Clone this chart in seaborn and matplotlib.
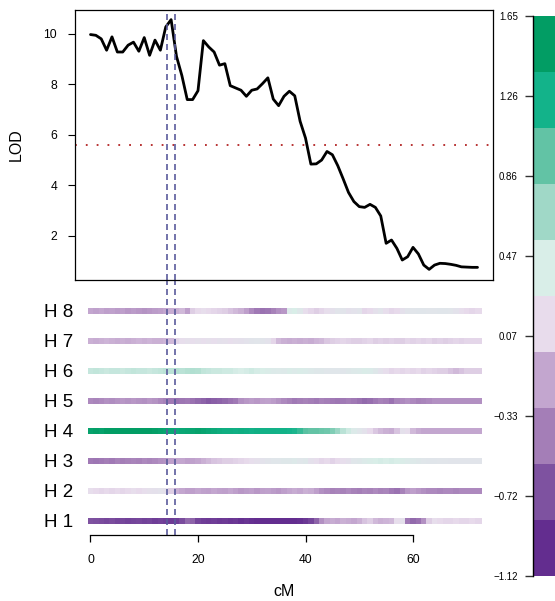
import numpy as np
import pandas as pd
import matplotlib
matplotlib.use('Agg')
import matplotlib.pyplot as plt
from matplotlib.colors import ListedColormap, LinearSegmentedColormap, Normalize
import seaborn as sns

# marker positions (cM) and LOD profile
cm_pos = list(range(73))
lod = [9.96, 9.93, 9.79, 9.34, 9.87, 9.27, 9.27, 9.54, 9.66, 9.30,
       9.84, 9.14, 9.74, 9.34, 10.26, 10.55, 9.10, 8.34, 7.39, 7.39,
       7.74, 9.72, 9.47, 9.27, 8.75, 8.81, 7.94, 7.85, 7.76, 7.52,
       7.76, 7.81, 8.02, 8.25, 7.41, 7.15, 7.52, 7.72, 7.54, 6.53,
       5.87, 4.84, 4.85, 5.00, 5.34, 5.21, 4.78, 4.26, 3.72, 3.36,
       3.16, 3.13, 3.25, 3.13, 2.79, 1.71, 1.84, 1.51, 1.05, 1.18,
       1.55, 1.29, 0.85, 0.68, 0.85, 0.92, 0.91, 0.88, 0.84, 0.78,
       0.77, 0.76, 0.76]

lod_threshold = 5.6
ci_bounds = [14.3, 15.7]

# haplotype effects along the chromosome
hap_labels = ['H 1', 'H 2', 'H 3', 'H 4', 'H 5', 'H 6', 'H 7', 'H 8']
h1 = [-0.70, -0.72, -0.75, -0.78, -0.75, -0.80, -0.78, -0.82, -0.80, -0.78,
      -0.82, -0.80, -0.85, -0.82, -0.85, -0.88, -0.85, -0.75, -0.55, -0.60,
      -0.80, -0.85, -0.88, -0.85, -0.90, -0.88, -0.92, -0.90, -0.95, -0.92,
      -0.95, -0.98, -1.00, -1.02, -1.00, -1.05, -1.02, -1.00, -0.98, -0.95,
      -0.90, -0.80, -0.60, -0.30, -0.15, -0.12, -0.15, -0.10, -0.12, -0.15,
      -0.10, 0.00, 0.05, -0.05, -0.10, -0.08, -0.05, 0.15, 0.20, -0.45,
      -0.55, -0.50, -0.30, 0.05, 0.15, 0.12, 0.10, 0.10, 0.12, 0.10,
      0.10, 0.12, 0.10]
h2 = [0.15, 0.12, 0.10, 0.12, 0.10, 0.12, 0.10, 0.12, 0.15, 0.12,
      0.15, 0.18, 0.20, 0.22, 0.20, 0.05, -0.10, -0.15, -0.20, -0.20,
      -0.15, -0.18, -0.20, -0.15, -0.18, -0.20, -0.15, -0.20, -0.25, -0.22,
      -0.20, -0.25, -0.20, -0.18, -0.22, -0.25, -0.20, -0.15, -0.12, -0.15,
      -0.10, -0.12, -0.20, -0.30, -0.35, -0.40, -0.38, -0.40, -0.35, -0.40,
      -0.42, -0.38, -0.40, -0.35, -0.40, -0.38, -0.45, -0.50, -0.40, -0.25,
      -0.20, -0.25, -0.30, -0.35, -0.35, -0.38, -0.35, -0.35, -0.38, -0.35,
      -0.35, -0.35, -0.35]
h3 = [-0.45, -0.48, -0.45, -0.42, -0.45, -0.40, -0.42, -0.40, -0.38, -0.40,
      -0.35, -0.38, -0.35, -0.30, -0.28, -0.20, -0.15, -0.15, -0.20, -0.18,
      -0.15, -0.10, -0.05, 0.00, 0.02, 0.05, 0.05, 0.08, 0.10, 0.12,
      0.15, 0.18, 0.22, 0.25, 0.28, 0.28, 0.30, 0.30, 0.32, 0.28,
      0.30, 0.20, 0.15, 0.10, 0.12, 0.08, 0.12, 0.15, 0.20, 0.28,
      0.30, 0.35, 0.38, 0.40, 0.42, 0.40, 0.42, 0.40, 0.38, 0.35,
      0.32, 0.30, 0.28, 0.27, 0.27, 0.26, 0.26, 0.25, 0.25, 0.25,
      0.25, 0.25, 0.25]
h4 = [1.45, 1.48, 1.45, 1.50, 1.52, 1.50, 1.52, 1.55, 1.58, 1.55,
      1.55, 1.50, 1.48, 1.45, 1.42, 1.38, 1.35, 1.38, 1.40, 1.42,
      1.45, 1.42, 1.38, 1.35, 1.32, 1.30, 1.30, 1.28, 1.30, 1.28,
      1.26, 1.28, 1.26, 1.25, 1.25, 1.24, 1.24, 1.22, 1.20, 1.10,
      0.98, 0.95, 0.95, 0.92, 0.90, 0.82, 0.70, 0.55, 0.45, 0.35,
      0.28, 0.22, 0.12, 0.02, -0.05, -0.10, -0.12, 0.00, 0.20, 0.15,
      -0.05, -0.12, -0.15, -0.15, -0.15, -0.15, -0.15, -0.15, -0.15, -0.15,
      -0.15, -0.15, -0.15]
h5 = [-0.35, -0.38, -0.35, -0.30, -0.32, -0.28, -0.25, -0.28, -0.25, -0.28,
      -0.30, -0.25, -0.28, -0.35, -0.40, -0.45, -0.50, -0.48, -0.45, -0.50,
      -0.55, -0.60, -0.65, -0.62, -0.60, -0.55, -0.50, -0.45, -0.30, -0.25,
      -0.22, -0.25, -0.20, -0.18, -0.22, -0.28, -0.35, -0.40, -0.45, -0.42,
      -0.40, -0.42, -0.45, -0.40, -0.42, -0.45, -0.48, -0.45, -0.42, -0.45,
      -0.50, -0.55, -0.52, -0.45, -0.40, -0.42, -0.50, -0.38, -0.35, -0.30,
      -0.35, -0.40, -0.38, -0.35, -0.30, -0.30, -0.30, -0.30, -0.30, -0.30,
      -0.30, -0.30, -0.30]
h6 = [0.50, 0.52, 0.50, 0.48, 0.50, 0.50, 0.48, 0.50, 0.52, 0.50,
      0.50, 0.48, 0.50, 0.52, 0.55, 0.55, 0.58, 0.55, 0.58, 0.60,
      0.58, 0.52, 0.50, 0.48, 0.48, 0.45, 0.45, 0.42, 0.40, 0.42,
      0.45, 0.42, 0.40, 0.38, 0.35, 0.33, 0.32, 0.38, 0.35, 0.38,
      0.36, 0.32, 0.30, 0.30, 0.28, 0.28, 0.28, 0.27, 0.30, 0.32,
      0.35, 0.38, 0.36, 0.30, 0.22, 0.15, 0.10, 0.12, 0.10, 0.12,
      0.10, 0.12, 0.08, 0.10, 0.08, 0.05, 0.05, 0.00, -0.05, 0.00,
      0.05, 0.05, 0.05]
h7 = [-0.10, -0.12, -0.10, -0.08, -0.10, -0.12, -0.10, -0.12, -0.10, -0.08,
      -0.10, -0.08, -0.10, -0.10, -0.08, -0.05, 0.10, 0.15, 0.18, 0.15,
      0.18, 0.15, 0.18, 0.15, 0.20, 0.18, 0.15, 0.18, 0.20, 0.22,
      0.25, 0.26, 0.25, 0.22, 0.10, -0.05, -0.10, -0.12, -0.10, -0.12,
      -0.10, -0.12, -0.08, -0.05, 0.02, 0.05, 0.08, 0.10, 0.08, 0.05,
      0.05, 0.08, 0.10, 0.05, 0.08, 0.05, 0.08, 0.05, 0.05, 0.10,
      0.08, 0.10, 0.08, 0.10, 0.05, 0.08, 0.05, 0.08, 0.10, 0.08,
      0.10, 0.10, 0.10]
h8 = [-0.15, -0.18, -0.15, -0.20, -0.18, -0.22, -0.20, -0.25, -0.22, -0.25,
      -0.28, -0.25, -0.22, -0.20, -0.15, -0.12, -0.10, -0.05, -0.20, 0.05,
      0.12, 0.15, 0.12, 0.10, 0.08, 0.05, 0.00, -0.05, -0.10, -0.20,
      -0.35, -0.45, -0.50, -0.48, -0.40, -0.30, -0.25, 0.35, 0.40, 0.30,
      0.15, 0.10, 0.05, 0.10, 0.15, 0.20, 0.25, 0.25, 0.20, 0.22,
      0.25, 0.10, 0.12, 0.20, 0.25, 0.15, 0.10, 0.12, 0.20, 0.25,
      0.26, 0.27, 0.27, 0.26, 0.26, 0.27, 0.27, 0.26, 0.22, 0.15,
      0.12, 0.10, 0.12]
hap_effects = [h1, h2, h3, h4, h5, h6, h7, h8]

# colour key
key_colors = ['#632d8f', '#7e52a0', '#a47eb7', '#c3a6cf', '#e8dcec',
              '#d9eee8', '#a0d8c7', '#62c3a5', '#13b38a', '#029d64']
key_min, key_max = -1.12, 1.65
key_ticklabels = ['1.65', '1.26', '0.86', '0.47', '0.07', '\u22120.33', '\u22120.72', '\u22121.12']

sns.set_style('white')
plt.rcParams['font.family'] = ['Liberation Sans', 'DejaVu Sans']
for k in ['text.color', 'axes.labelcolor', 'xtick.color', 'ytick.color', 'axes.edgecolor']:
    plt.rcParams[k] = 'black'

W, H = 555, 601
fig = plt.figure(figsize=(W / 100, H / 100), dpi=100)
ax_bot = fig.add_axes([75 / W, 1 - 535 / H, 418 / W, 255.5 / H])
ax_top = fig.add_axes([75 / W, 1 - 279.5 / H, 418 / W, 270 / H])
cax = fig.add_axes([533 / W, 1 - 576 / H, 40 / W, 560 / H])
ax_bot.patch.set_alpha(0)
ax_top.patch.set_alpha(0)

xlim = (-2.88, 74.88)
ci_style = dict(color='#5b5b9c', lw=1.2, linestyle=(0, (3.6, 2.4)))

# LOD curve
df_lod = pd.DataFrame({'cM': cm_pos, 'LOD': lod})
sns.lineplot(data=df_lod, x='cM', y='LOD', ax=ax_top, color='black', lw=2)
ax_top.axhline(lod_threshold, color='#b22222', lw=1.3, linestyle=(0, (1, 5)))
for b in ci_bounds:
    ax_top.axvline(b, **ci_style)
ax_top.set_xlim(*xlim)
ax_top.set_ylim(0.28, 10.95)
ax_top.set_xticks([])
ax_top.set_yticks([2, 4, 6, 8, 10])
ax_top.set_xlabel('')
ax_top.set_ylabel('LOD', fontsize=11.5, labelpad=14)
ax_top.tick_params(axis='y', left=True, length=5, width=0.8, pad=8, labelsize=8.7, color='black')
for s in ax_top.spines.values():
    s.set_visible(True)
    s.set_color('black')
    s.set_linewidth(0.9)
    s.set_zorder(5)

# haplotype effect bars
cmap_cont = LinearSegmentedColormap.from_list(
    'hap', [(0.0, key_colors[0])] + [((k + 0.5) / 10, c) for k, c in enumerate(key_colors)] + [(1.0, key_colors[-1])])
norm = Normalize(key_min, key_max)
pos = np.array(cm_pos, dtype=float)
mids = (pos[:-1] + pos[1:]) / 2
edges = np.concatenate([[pos[0] - 0.55], mids, [pos[-1] + 0.8]])
for i, vals in enumerate(hap_effects):
    y = i + 1
    ax_bot.pcolormesh(edges, [y - 0.1, y + 0.1], np.array(vals)[None, :], cmap=cmap_cont, norm=norm,
                      shading='flat')
for b in ci_bounds:
    ax_bot.axvline(b, **ci_style)
ax_bot.set_xlim(*xlim)
ax_bot.set_ylim(0.533, 9.033)
ax_bot.set_yticks(range(1, 9))
ax_bot.set_yticklabels(hap_labels, fontsize=13.5)
ax_bot.set_xticks([0, 20, 40, 60])
ax_bot.tick_params(axis='y', left=False, length=0, pad=1)
ax_bot.tick_params(axis='x', bottom=True, length=5, width=0.9, pad=9, labelsize=8.7, color='black')
for side in ['top', 'right', 'left']:
    ax_bot.spines[side].set_visible(False)
ax_bot.spines['bottom'].set_bounds(0, 60)
ax_bot.spines['bottom'].set_color('black')
ax_bot.spines['bottom'].set_linewidth(0.9)
ax_bot.set_xlabel('cM', fontsize=11.5, labelpad=13)

# colour key
key_vals = np.arange(len(key_colors))[::-1].reshape(-1, 1)
sns.heatmap(key_vals, ax=cax, cmap=ListedColormap(key_colors), vmin=-0.5, vmax=9.5,
            cbar=False, xticklabels=False, yticklabels=False)
cax.set_yticks(np.linspace(0, len(key_colors), len(key_ticklabels)))
cax.set_yticklabels(key_ticklabels)
cax.tick_params(axis='y', left=True, length=6, width=1, pad=5, labelsize=7, color='#333333', rotation=0)
cax.spines['left'].set_visible(True)
cax.spines['left'].set_color('black')
cax.spines['left'].set_linewidth(1)

fig.savefig('out.png', dpi=100)
